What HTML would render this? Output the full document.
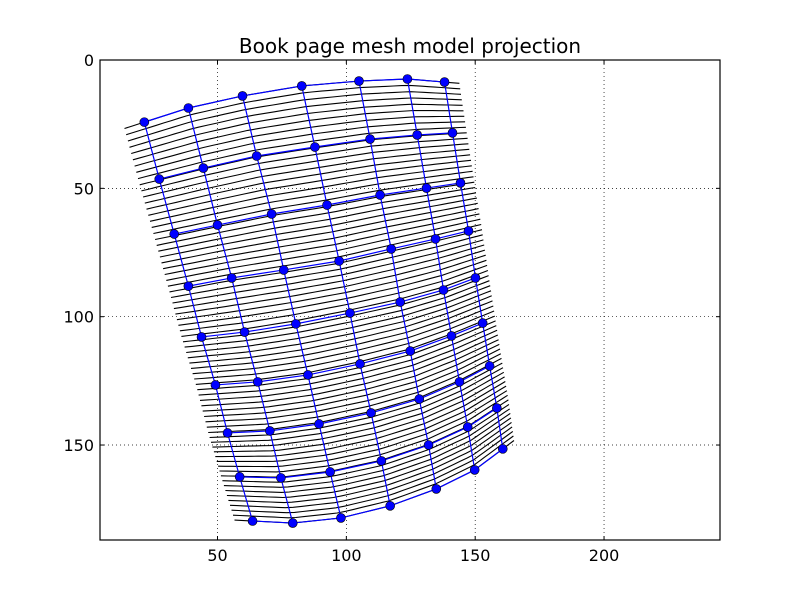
<!DOCTYPE html>
<html><head><meta charset="utf-8"><style>
body{margin:0;background:#fff;width:800px;height:600px;overflow:hidden}
svg text{font-family:"DejaVu Sans","Liberation Sans",sans-serif}
</style></head><body>
<svg id="chart" width="800" height="600">
<rect width="800" height="600" fill="#fff"/>
<text x="410" y="53" font-size="20" text-anchor="middle">Book page mesh model projection</text>
<g id="grid"></g>
<g id="black"></g>
<g id="blue"></g>
<rect x="100" y="60" width="620" height="480" fill="none" stroke="#000" stroke-width="1.2"/>
<g id="ticks"></g>
</svg>
<script>
const xTicks=[50,100,150,200];
const yTicks=[0,50,100,150];
const meshX=[
[21.6,38.7,59.7,82.7,104.9,123.7,138.1],
[27.4,44.5,65.2,87.8,109.2,127.5,141.2],
[33.2,50.0,71.0,92.5,113.1,131.1,144.3],
[38.7,55.5,75.7,97.2,117.4,134.6,147.4],
[43.8,60.5,80.4,101.4,120.9,137.7,150.1],
[49.2,65.6,85.1,105.3,124.8,140.8,152.9],
[53.9,70.3,89.4,109.6,128.3,143.9,155.6],
[58.6,74.6,93.7,113.6,131.9,147.1,158.4],
[63.6,79.2,97.9,117.0,134.9,149.8,160.7]];
const meshY=[
[24.2,18.7,14.0,10.1,8.2,7.4,8.6],
[46.4,42.1,37.4,33.9,30.8,29.2,28.4],
[67.8,64.3,60.0,56.5,52.6,49.9,47.9],
[88.1,84.9,81.8,78.3,73.6,69.7,66.6],
[107.9,106.0,102.8,98.6,94.3,89.6,84.9],
[126.6,125.4,122.7,118.4,113.4,107.5,102.5],
[145.3,144.5,141.8,137.5,132.1,125.4,119.2],
[162.4,162.8,160.5,156.2,150.0,143.0,135.6],
[179.6,180.4,178.4,173.7,167.1,159.7,151.5]];
const xMin=4.4,xMax=245,yMin=0,yMax=187;
const X=v=>100+(v-xMin)/(xMax-xMin)*620;
const Y=v=>60+(v-yMin)/(yMax-yMin)*480;
const NS="http://www.w3.org/2000/svg";
function mk(tag,attrs,parent){const e=document.createElementNS(NS,tag);for(const k in attrs)e.setAttribute(k,attrs[k]);parent.appendChild(e);return e;}
const grid=document.getElementById('grid'),ticks=document.getElementById('ticks');
xTicks.forEach(t=>{
 const l=mk('line',{x1:X(t),x2:X(t),y1:60,y2:540,stroke:'#000','stroke-dasharray':'1,3','stroke-width':0.7},grid);
 
 
 mk('line',{x1:X(t),x2:X(t),y1:540,y2:536,stroke:'#000'},ticks);
 mk('line',{x1:X(t),x2:X(t),y1:60,y2:64,stroke:'#000'},ticks);
 const tx=mk('text',{x:X(t),y:561,'font-size':16,'text-anchor':'middle'},ticks);tx.textContent=t;
 
 
});
yTicks.forEach(t=>{
 const l=mk('line',{x1:100,x2:720,y1:Y(t),y2:Y(t),stroke:'#000','stroke-dasharray':'1,3','stroke-width':0.7},grid);
 
 
 mk('line',{x1:100,x2:104,y1:Y(t),y2:Y(t),stroke:'#000'},ticks);
 mk('line',{x1:716,x2:720,y1:Y(t),y2:Y(t),stroke:'#000'},ticks);
 const tx=mk('text',{x:94,y:Y(t)+6,'font-size':16,'text-anchor':'end'},ticks);tx.textContent=t;
 
 
});
function interp(M,v,u){
 const R=M.length-1,C=M[0].length-1;
 let i=Math.min(Math.max(Math.floor(v),0),R-1),j=Math.min(Math.max(Math.floor(u),0),C-1);
 const fv=v-i,fu=u-j;
 const a=M[i][j]+(M[i][j+1]-M[i][j])*fu,b=M[i+1][j]+(M[i+1][j+1]-M[i+1][j])*fu;
 return a+(b-a)*fv;
}
const black=document.getElementById('black');
const nLines=72;
for(let k=0;k<nLines;k++){
 const v=k*8/(nLines-1);let d='';
 for(let s=0;s<=40;s++){const u=-0.45+s*(6.4+0.45)/40;
  d+=(s?'L':'M')+X(interp(meshX,v,u)).toFixed(1)+','+Y(interp(meshY,v,u)).toFixed(1);}
 const p=mk('path',{d,fill:'none',stroke:'#000','stroke-width':1.1},black);
 
 
}
const blue=document.getElementById('blue');
for(let i=0;i<meshX.length;i++){
 const p=mk('polyline',{points:meshX[i].map((x,j)=>X(x)+','+Y(meshY[i][j])).join(' '),fill:'none',stroke:'#0000ff','stroke-width':1.2},blue);
 
 
}
for(let j=0;j<meshX[0].length;j++){
 const p=mk('polyline',{points:meshX.map((r,i)=>X(r[j])+','+Y(meshY[i][j])).join(' '),fill:'none',stroke:'#0000ff','stroke-width':1.2},blue);
 
 
}
for(let i=0;i<meshX.length;i++)for(let j=0;j<meshX[0].length;j++){
 const c=mk('circle',{cx:X(meshX[i][j]),cy:Y(meshY[i][j]),r:4.5,fill:'#0000ff',stroke:'#000','stroke-width':0.6},blue);
 
 
}
</script>
</body></html>
